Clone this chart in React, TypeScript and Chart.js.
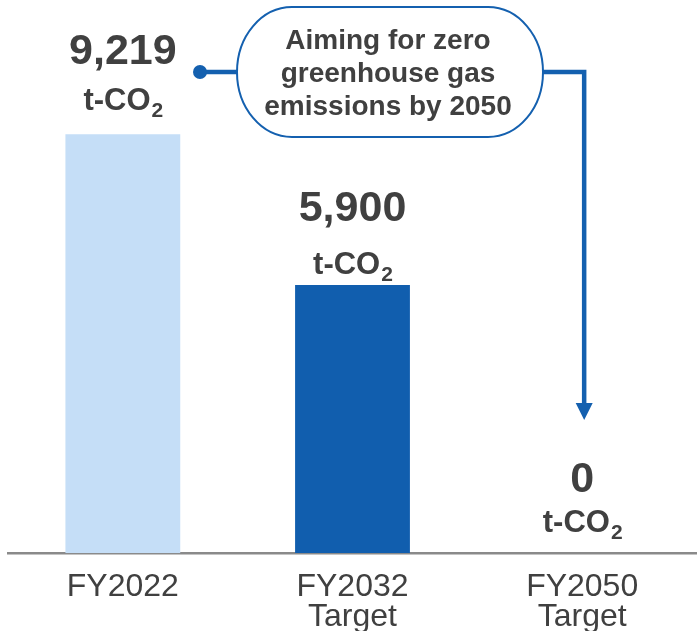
import React, { useEffect, useRef } from "react";
import { Chart, registerables } from "chart.js";

Chart.register(...registerables);

// ---- data ----
const categories: (string | string[])[] = ["FY2022", ["FY2032", "Target"], ["FY2050", "Target"]];
const emissions = [9219, 5900, 0];
const valueLabels = ["9,219", "5,900", "0"];
const unitLabel = "t-CO";
const unitSub = "2";
const calloutLines = ["Aiming for zero", "greenhouse gas", "emissions by 2050"];
const barColors = ["#C5DEF7", "#115EAE", "#115EAE"];

const FONT = "'Liberation Sans', Arial, sans-serif";
const TEXT = "#404040";
const BLUE = "#1460AF";

const annotPlugin = {
  id: "annot",
  afterDatasetsDraw(chart: any) {
    const ctx: CanvasRenderingContext2D = chart.ctx;
    const xs = chart.scales.x;
    const ys = chart.scales.y;
    const valOff = [70, 64, 61];
    const unitOff = [24, 11, 21];
    ctx.save();
    ctx.fillStyle = TEXT;
    emissions.forEach((v, i) => {
      const x = xs.getPixelForValue(i);
      const y = ys.getPixelForValue(v);
      ctx.textAlign = "center";
      ctx.textBaseline = "alphabetic";
      ctx.font = `bold 43px ${FONT}`;
      ctx.fillText(valueLabels[i], x, y - valOff[i]);
      ctx.font = `bold 31px ${FONT}`;
      const w1 = ctx.measureText(unitLabel).width;
      ctx.font = `bold 21px ${FONT}`;
      const w2 = ctx.measureText(unitSub).width;
      const start = x - (w1 + w2) / 2;
      ctx.textAlign = "left";
      ctx.font = `bold 31px ${FONT}`;
      ctx.fillText(unitLabel, start, y - unitOff[i]);
      ctx.font = `bold 21px ${FONT}`;
      ctx.fillText(unitSub, start + w1 + 1, y - unitOff[i] + 7);
    });

    // callout connectors
    const cy = 72;
    const left = 237, right = 543, top = 7, bottom = 137;
    const arrowX = xs.getPixelForValue(2) + 2;
    ctx.strokeStyle = BLUE;
    ctx.fillStyle = BLUE;
    ctx.lineWidth = 4.5;
    ctx.lineJoin = "miter";
    ctx.beginPath();
    ctx.moveTo(200, cy);
    ctx.lineTo(left, cy);
    ctx.stroke();
    ctx.beginPath();
    ctx.arc(200, cy, 7, 0, Math.PI * 2);
    ctx.fill();
    ctx.beginPath();
    ctx.moveTo(right, cy);
    ctx.lineTo(arrowX, cy);
    ctx.lineTo(arrowX, 405);
    ctx.stroke();
    ctx.beginPath();
    ctx.moveTo(arrowX - 8.5, 403);
    ctx.lineTo(arrowX + 8.5, 403);
    ctx.lineTo(arrowX, 420);
    ctx.closePath();
    ctx.fill();

    // callout pill
    const rx = 55;
    const ry = (bottom - top) / 2;
    const my = (top + bottom) / 2;
    ctx.beginPath();
    ctx.moveTo(left + rx, top);
    ctx.lineTo(right - rx, top);
    ctx.ellipse(right - rx, my, rx, ry, 0, -Math.PI / 2, Math.PI / 2);
    ctx.lineTo(left + rx, bottom);
    ctx.ellipse(left + rx, my, rx, ry, 0, Math.PI / 2, (3 * Math.PI) / 2);
    ctx.closePath();
    ctx.fillStyle = "#ffffff";
    ctx.fill();
    ctx.lineWidth = 2;
    ctx.strokeStyle = BLUE;
    ctx.stroke();

    ctx.fillStyle = TEXT;
    ctx.font = `bold 28px ${FONT}`;
    ctx.textAlign = "center";
    ctx.textBaseline = "alphabetic";
    const cx = 388;
    const baselines = [49, 82, 115];
    calloutLines.forEach((t, i) => ctx.fillText(t, cx, baselines[i]));
    ctx.restore();
  },
};

export default function App() {
  const ref = useRef<HTMLCanvasElement | null>(null);
  useEffect(() => {
    if (!ref.current) return;
    const chart = new Chart(ref.current, {
      type: "bar",
      data: {
        labels: categories as any,
        datasets: [
          {
            data: emissions,
            backgroundColor: barColors,
            borderWidth: 0,
            barPercentage: 0.5,
            categoryPercentage: 1,
          },
        ],
      },
      options: {
        animation: false,
        responsive: true,
        maintainAspectRatio: false,
        devicePixelRatio: 1,
        layout: { padding: { left: 8, right: -4, top: 8, bottom: -12 } },
        plugins: { legend: { display: false }, tooltip: { enabled: false } },
        scales: {
          x: {
            grid: { display: false },
            border: { display: true, color: "#8a8a8a", width: 2.5 },
            ticks: {
              color: TEXT,
              padding: 11,
              maxRotation: 0,
              autoSkip: false,
              font: { family: FONT, size: 32, lineHeight: "30px" as any },
            },
          },
          y: { display: false, min: 0, max: 12000 },
        },
      },
      plugins: [annotPlugin],
    });
    return () => chart.destroy();
  }, []);
  return (
    <div style={{ position: "absolute", left: 0, top: 0, width: 697, height: 631, background: "#fff" }}>
      <canvas ref={ref} />
    </div>
  );
}
